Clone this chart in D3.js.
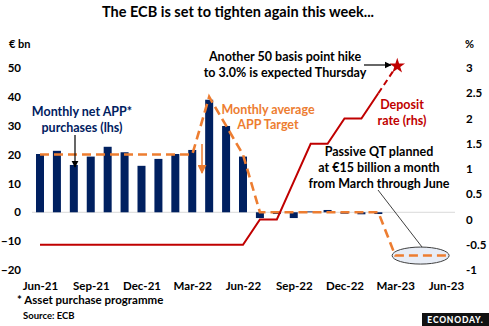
<!DOCTYPE html>
<html>
<head>
<meta charset="utf-8">
<script src="https://cdn.jsdelivr.net/npm/d3@7"></script>
<style>
  body { margin: 0; background: #fff; }
  text { font-family: Lato, "Open Sans", sans-serif; }
</style>
</head>
<body>
<div id="chart"></div>
<script>
// month labels, one per bar/point (Jun-21 .. Jun-23)
var months = ["Jun-21","Jul-21","Aug-21","Sep-21","Oct-21","Nov-21","Dec-21","Jan-22","Feb-22","Mar-22",
              "Apr-22","May-22","Jun-22","Jul-22","Aug-22","Sep-22","Oct-22","Nov-22","Dec-22","Jan-23",
              "Feb-23","Mar-23","Apr-23","May-23","Jun-23"];
var tickMonths = ["Jun-21","Sep-21","Dec-21","Mar-22","Jun-22","Sep-22","Dec-22","Mar-23","Jun-23"];

// monthly net APP purchases, EUR bn (lhs)
var netPurchases = [20.2, 21.3, 16.4, 19.3, 22.7, 20.8, 16.1, 18.5, 20.2, 21.6,
                    39.0, 29.9, 19.3, -2.0, -0.6, -2.0, 0.3, 0.8, -0.5, -0.7, -0.6];
// monthly average APP target, EUR bn (lhs)
var appTarget = [20, 20, 20, 20, 20, 20, 20, 20, 20, 20,
                 40, 30, 20, 0, 0, 0, 0, 0, 0, 0, 0, -15, -15, -15, -15];
// deposit rate, % (rhs); last point is the expected March move
var depositRate = [-0.5, -0.5, -0.5, -0.5, -0.5, -0.5, -0.5, -0.5, -0.5, -0.5,
                   -0.5, -0.5, -0.5, 0, 0, 0.75, 1.5, 1.5, 2.0, 2.0, 2.5, 3.0];

var leftTicks = [-20, -10, 0, 10, 20, 30, 40, 50];
var rightTicks = [-1, -0.5, 0, 0.5, 1, 1.5, 2, 2.5, 3];

var W = 489, H = 326;
var NAVY = "#002060", ORANGE = "#ED7D31", RED = "#C00000";

var svg = d3.select("#chart").append("svg")
    .attr("width", W).attr("height", H);

var x = d3.scaleLinear().domain([0, months.length - 1]).range([40, 446]);
var yL = d3.scaleLinear().domain([-20, 50]).range([270, 68]);
var yR = d3.scaleLinear().domain([-1, 3]).range([270, 68]);

// title
svg.append("text")
    .attr("x", 238).attr("y", 17)
    .attr("text-anchor", "middle")
    .attr("font-size", "14.5px").attr("font-weight", "bold")
    .attr("fill", "#000")
    .text("The ECB is set to tighten again this week...");

// axis unit labels
svg.append("text").attr("x", 9).attr("y", 48)
    .attr("font-size", "11px").attr("font-weight", "bold").text("€ bn");
svg.append("text").attr("x", 465).attr("y", 48)
    .attr("font-size", "11px").attr("font-weight", "bold").text("%");

// zero line
svg.append("line")
    .attr("x1", 32).attr("x2", 455)
    .attr("y1", yL(0)).attr("y2", yL(0))
    .attr("stroke", "#d9d9d9").attr("stroke-width", 1);

// left axis
var gL = svg.append("g")
    .attr("transform", "translate(21,0)")
    .call(d3.axisLeft(yL).tickValues(leftTicks).tickSize(0).tickPadding(0));
gL.select(".domain").remove();
gL.selectAll("text").attr("font-size", "11.5px").attr("font-weight", "bold")
    .attr("fill", "#000").style("font-family", "Lato, sans-serif");

// right axis
var gR = svg.append("g")
    .attr("transform", "translate(466,0)")
    .call(d3.axisRight(yR).tickValues(rightTicks).tickSize(0).tickPadding(0)
          .tickFormat(function(d) { return String(d); }));
gR.select(".domain").remove();
gR.selectAll("text").attr("font-size", "11.5px").attr("font-weight", "bold")
    .attr("fill", "#000").style("font-family", "Lato, sans-serif");

// bottom axis labels
var gX = svg.append("g")
    .attr("transform", "translate(0,282)")
    .call(d3.axisBottom(x)
          .tickValues(tickMonths.map(function(m) { return months.indexOf(m); }))
          .tickFormat(function(i) { return months[i]; })
          .tickSize(0).tickPadding(0));
gX.select(".domain").remove();
gX.selectAll("text").attr("font-size", "11.5px").attr("font-weight", "bold")
    .attr("fill", "#000").style("font-family", "Lato, sans-serif");

// bars: monthly net purchases
var barW = 8;
svg.selectAll("rect.bar")
    .data(netPurchases)
  .enter().append("rect")
    .attr("class", "bar")
    .attr("x", function(d, i) { return x(i) - barW / 2; })
    .attr("width", barW)
    .attr("y", function(d) { return yL(Math.max(0, d)); })
    .attr("height", function(d) { return Math.abs(yL(d) - yL(0)); })
    .attr("fill", NAVY);

// QT callout ellipse (drawn under the dashed line)
svg.append("line")
    .attr("x1", 378).attr("y1", 190).attr("x2", 422).attr("y2", 247)
    .attr("stroke", "#404040").attr("stroke-width", 1);
svg.append("ellipse")
    .attr("cx", x(22.5)).attr("cy", yL(-15))
    .attr("rx", 28.5).attr("ry", 8.5)
    .attr("fill", "#e8edf6").attr("stroke", "#404040").attr("stroke-width", 1);

// APP target dashed line
var lineL = d3.line()
    .x(function(d, i) { return x(i); })
    .y(function(d) { return yL(d); });
svg.append("path")
    .datum(appTarget)
    .attr("d", lineL)
    .attr("fill", "none")
    .attr("stroke", ORANGE).attr("stroke-width", 2.6)
    .attr("stroke-dasharray", "9,5");

// deposit rate: solid up to Feb-23, dashed for the expected hike
var lineR = d3.line()
    .x(function(d) { return x(d.i); })
    .y(function(d) { return yR(d.v); });
var rate = depositRate.map(function(v, i) { return {i: i, v: v}; });
var last = rate.length - 1;
svg.append("path")
    .datum(rate.slice(0, last))
    .attr("d", lineR)
    .attr("fill", "none").attr("stroke", RED).attr("stroke-width", 2);
svg.append("path")
    .datum(rate.slice(last - 1))
    .attr("d", lineR)
    .attr("fill", "none").attr("stroke", RED).attr("stroke-width", 2)
    .attr("stroke-dasharray", "6,4");
svg.append("path")
    .attr("d", d3.symbol().type(d3.symbolStar).size(75)())
    .attr("transform", "translate(" + (x(last) + 2) + "," + (yR(3) - 2) + ")")
    .attr("fill", RED);

// arrow markers
var defs = svg.append("defs");
function marker(id, color) {
  defs.append("marker")
      .attr("id", id)
      .attr("viewBox", "0 0 10 10")
      .attr("refX", 9).attr("refY", 5)
      .attr("markerWidth", 6).attr("markerHeight", 6)
      .attr("orient", "auto")
    .append("path")
      .attr("d", "M0,0 L10,5 L0,10 z")
      .attr("fill", color);
}
marker("arrBlack", "#000");
marker("arrOrange", ORANGE);

function label(lines, cx, y0, dy, color, size) {
  var t = svg.append("text")
      .attr("text-anchor", "middle")
      .attr("font-size", size).attr("font-weight", "bold")
      .attr("fill", color);
  lines.forEach(function(s, k) {
    t.append("tspan").attr("x", cx).attr("y", y0 + k * dy).text(s);
  });
}

label(["Another 50 basis point hike", "to 3.0% is expected Thursday"], 285, 61, 16, "#000", "12.5px");
svg.append("line")
    .attr("x1", 364).attr("y1", 65).attr("x2", 391).attr("y2", 65)
    .attr("stroke", "#000").attr("stroke-width", 1.2)
    .attr("marker-end", "url(#arrBlack)");

label(["Deposit", "rate (rhs)"], 402, 109, 16, RED, "12.5px");
label(["Monthly average", "APP Target"], 268, 114, 15, ORANGE, "12.5px");
label(["Monthly net APP*", "purchases (lhs)"], 82, 116, 16, NAVY, "12.5px");
svg.append("line")
    .attr("x1", 75).attr("y1", 135).attr("x2", 75).attr("y2", 167)
    .attr("stroke", "#000").attr("stroke-width", 1.2)
    .attr("marker-end", "url(#arrBlack)");
svg.append("line")
    .attr("x1", 202).attr("y1", 144).attr("x2", 202).attr("y2", 173)
    .attr("stroke", ORANGE).attr("stroke-width", 1.5)
    .attr("marker-end", "url(#arrOrange)");

label(["Passive QT planned", "at €15 billion a month", "from March through June"], 379, 156, 16, "#000", "12.5px");

// footnotes
svg.append("text").attr("x", 17).attr("y", 304)
    .attr("font-size", "11.5px").attr("font-weight", "bold")
    .text("* Asset purchase programme");
svg.append("text").attr("x", 23).attr("y", 319)
    .attr("font-size", "9.5px").attr("font-weight", "bold")
    .text("Source: ECB");

// logo
svg.append("rect")
    .attr("x", 422).attr("y", 313).attr("width", 67).attr("height", 13)
    .attr("fill", "#111");
svg.append("text")
    .attr("x", 455.5).attr("y", 323)
    .attr("text-anchor", "middle")
    .attr("font-size", "8.5px").attr("font-weight", "900")
    .attr("letter-spacing", "0.8px")
    .attr("fill", "#fff")
    .text("ECONODAY.");
</script>
</body>
</html>
